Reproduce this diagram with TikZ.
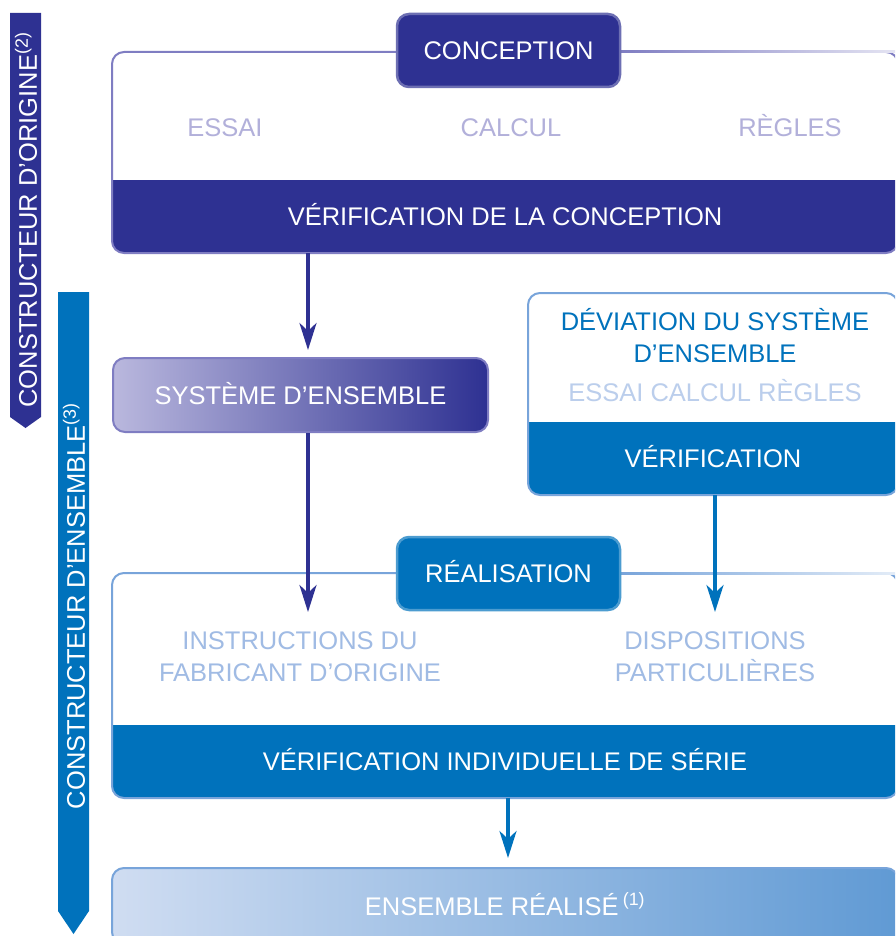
\documentclass[tikz,border=0pt]{standalone}
\usepackage{fontspec}
\setmainfont{Liberation Sans}
\usetikzlibrary{arrows.meta}
\definecolor{navy}{HTML}{2E3192}
\definecolor{lav}{HTML}{7F7DC2}
\definecolor{lavtext}{HTML}{B2B0DA}
\definecolor{oblue}{HTML}{0072BC}
\definecolor{bluebord}{HTML}{78A4DA}
\definecolor{bluetext}{HTML}{A0BBE4}
\definecolor{bluepale}{HTML}{BBCEEC}

\begin{document}
\begin{tikzpicture}[
  x=1pt,y=-1pt,
  txt/.style={font=\fontsize{25.5}{32}\selectfont,align=center,inner sep=0pt},
  oneline/.style={txt,text height=18pt,text depth=0pt},
  tabbox/.style={oneline,text=white,fill=#1,draw=#1!70!white,line width=2.5pt,rounded corners=12pt,minimum width=223,minimum height=73},
  bandbox/.style={oneline,text=white,fill=#1,minimum height=73},
  frame/.style={draw=#1,line width=2pt,rounded corners=12pt},
  navyarrow/.style={draw=navy,line width=3.5pt,-{Stealth[length=27pt,width=17pt,inset=8pt]}},
  bluearrow/.style={draw=oblue,line width=3.5pt,-{Stealth[length=27pt,width=17pt,inset=8pt]}}
]
\useasboundingbox (0,0) rectangle (895,936);
\clip (0,0) rectangle (895,936);

\fill[navy] (10,13) -- (41,13) -- (41,417) -- (25.5,428) -- (10,417) -- cycle;
\node[txt,text=white,rotate=90] (origine) at (26,220) {CONSTRUCTEUR D’ORIGINE\textsuperscript{(2)}};
\fill[oblue] (58,292) -- (89,292) -- (89,911) -- (73.5,934) -- (58,911) -- cycle;
\node[txt,text=white,rotate=90] (ensemble) at (74,606) {CONSTRUCTEUR D’ENSEMBLE\textsuperscript{(3)}};

\fill[white] (112,52) rectangle (898,253);
\begin{scope}
  \clip[rounded corners=12pt] (112,52) rectangle (898,253);
  \node[bandbox=navy,minimum width=786] (verifc) at (505,216.5) {VÉRIFICATION DE LA CONCEPTION};
\end{scope}
\draw[frame=lav] (112,52) rectangle (898,253);
\shade[left color=lav,right color=lav!20] (620,51) rectangle (898,53);
\node[tabbox=navy] (conception) at (508.5,50.5) {CONCEPTION};
\foreach \t/\x/\n in {ESSAI/225/essai,CALCUL/511/calcul,RÈGLES/790/regles}
  \node[oneline,text=lavtext] (\n) at (\x,128) {\t};

\node[oneline,text=white,left color=lavtext!90!white,right color=navy,draw=lav,line width=2pt,rounded corners=12pt,minimum width=375,minimum height=74] (systeme) at (300.5,395) {SYSTÈME D’ENSEMBLE};

\fill[white] (528,293) rectangle (898,495);
\begin{scope}
  \clip[rounded corners=12pt] (528,293) rectangle (898,495);
  \node[bandbox=oblue,minimum width=370] (verifd) at (713,458.5) {VÉRIFICATION};
\end{scope}
\draw[frame=bluebord] (528,293) rectangle (898,495);
\node[txt,text=oblue] (deviation) at (715,336) {DÉVIATION DU SYSTÈME\\D’ENSEMBLE};
\node[oneline,text=bluepale] (methodes) at (715,392) {ESSAI CALCUL RÈGLES};

\fill[white] (112,573) rectangle (898,798);
\begin{scope}
  \clip[rounded corners=12pt] (112,573) rectangle (898,798);
  \node[bandbox=oblue,minimum width=786] (verifs) at (505,761) {VÉRIFICATION INDIVIDUELLE DE SÉRIE};
\end{scope}
\draw[frame=bluebord] (112,573) rectangle (898,798);
\shade[left color=bluebord,right color=bluebord!20] (620,572) rectangle (898,574);
\node[tabbox=oblue] (realisation) at (508.5,573.5) {RÉALISATION};
\node[txt,text=bluetext] (instructions) at (300,657) {INSTRUCTIONS DU\\FABRICANT D’ORIGINE};
\node[txt,text=bluetext] (dispositions) at (715,657) {DISPOSITIONS\\PARTICULIÈRES};

\node[oneline,text=white,left color=bluepale!70!white,right color=bluebord!80!oblue,draw=bluebord,line width=2pt,rounded corners=12pt,minimum width=786,minimum height=76] (realise) at (505,906) {ENSEMBLE RÉALISÉ\,\textsuperscript{(1)}};

\coordinate (tipsys) at (308,350);
\coordinate (tipinstr) at (308,612);
\coordinate (tipdispo) at (715,612);
\coordinate (tipreal) at (508,858);
\draw[navyarrow] (verifc.south -| tipsys) -- (tipsys);
\draw[navyarrow] (systeme.south -| tipinstr) -- (tipinstr);
\draw[bluearrow] (verifd.south -| tipdispo) -- (tipdispo);
\draw[bluearrow] (verifs.south -| tipreal) -- (tipreal);

\end{tikzpicture}
\end{document}
